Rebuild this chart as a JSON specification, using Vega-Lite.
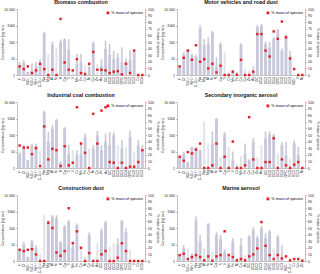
{
"$schema": "https://vega.github.io/schema/vega-lite/v6.json",
"padding": 0,
"background": "white",
"config": {"font": "Liberation Sans", "view": {"stroke": null},
  "axis": {"grid": false, "domainColor": "#999", "domainWidth": 0.6, "tickColor": "#999", "tickWidth": 0.6, "tickSize": 1.5, "labelPadding": 1, "labelFontSize": 3.5, "labelColor": "#222", "titleFontSize": 3.5, "titleFontWeight": "normal", "titleColor": "#222"},
  "title": {"fontSize": 5.3, "fontWeight": "bold", "offset": 1.5, "color": "#111"}},
"datasets": {"d": [
{"p":"B","s":"F⁻","m":3.7,"u":6,"q":13},{"p":"B","s":"Cl⁻","m":5.3,"u":8.5,"q":9},{"p":"B","s":"NO₃⁻","m":1.5,"u":1.5,"q":13},{"p":"B","s":"SO₄²⁻","m":1.8,"u":5,"q":3},{"p":"B","s":"NH₄⁺","m":3.4,"u":6,"q":7},{"p":"B","s":"C₂O₄²⁻","m":4.6,"u":9,"q":17},{"p":"B","s":"Na","m":350,"u":420,"q":9},{"p":"B","s":"Mg","m":null,"u":19,"q":0},{"p":"B","s":"Al","m":66,"u":105,"q":8},{"p":"B","s":"Si","m":null,"u":47,"q":0},{"p":"B","s":"K","m":95,"u":140,"q":85},{"p":"B","s":"Ca","m":140,"u":165,"q":19},{"p":"B","s":"Ti","m":34,"u":150,"q":8},{"p":"B","s":"V","m":null,"u":1.8,"q":7},{"p":"B","s":"Cr","m":null,"u":null,"q":0},{"p":"B","s":"Mn","m":4.6,"u":19,"q":24},{"p":"B","s":"Fe","m":6,"u":19,"q":3},{"p":"B","s":"Co","m":null,"u":3.7,"q":1.5},{"p":"B","s":"Ni","m":2.9,"u":5,"q":17},{"p":"B","s":"Cu","m":87,"u":105,"q":35},{"p":"B","s":"Zn","m":null,"u":4.6,"q":8},{"p":"B","s":"As","m":3.4,"u":9,"q":8},{"p":"B","s":"OC","m":38,"u":120,"q":7},{"p":"B","s":"OC1","m":17,"u":75,"q":3},{"p":"B","s":"OC2","m":9,"u":30,"q":5},{"p":"B","s":"OC3","m":11,"u":21,"q":6},{"p":"B","s":"OC4","m":null,"u":null,"q":0},{"p":"B","s":"OPC","m":6,"u":47,"q":1},{"p":"B","s":"EC1","m":6,"u":10,"q":17},{"p":"B","s":"EC2","m":8.5,"u":33,"q":3},{"p":"B","s":"EC3","m":24,"u":38,"q":37},
{"p":"M","s":"F⁻","m":2.9,"u":4,"q":13},{"p":"M","s":"Cl⁻","m":17,"u":24,"q":26},{"p":"M","s":"NO₃⁻","m":null,"u":null,"q":9},{"p":"M","s":"SO₄²⁻","m":30,"u":38,"q":37},{"p":"M","s":"NH₄⁺","m":15,"u":19,"q":23},{"p":"M","s":"C₂O₄²⁻","m":13,"u":17,"q":45},{"p":"M","s":"Na","m":670,"u":1050,"q":20},{"p":"M","s":"Mg","m":66,"u":150,"q":24},{"p":"M","s":"Al","m":75,"u":190,"q":10},{"p":"M","s":"Si","m":385,"u":480,"q":17},{"p":"M","s":"K","m":2.9,"u":12,"q":4},{"p":"M","s":"Ca","m":75,"u":95,"q":14},{"p":"M","s":"Ti","m":null,"u":24,"q":0},{"p":"M","s":"V","m":null,"u":null,"q":0},{"p":"M","s":"Cr","m":null,"u":1.5,"q":0},{"p":"M","s":"Mn","m":1.6,"u":2,"q":5},{"p":"M","s":"Fe","m":null,"u":1.6,"q":0.5},{"p":"M","s":"Co","m":66,"u":85,"q":23},{"p":"M","s":"Ni","m":null,"u":null,"q":0},{"p":"M","s":"Cu","m":null,"u":2.3,"q":0},{"p":"M","s":"Zn","m":null,"u":1.8,"q":0},{"p":"M","s":"As","m":1.6,"u":3.4,"q":5},{"p":"M","s":"OC","m":800,"u":1100,"q":62},{"p":"M","s":"OC1","m":950,"u":1250,"q":62},{"p":"M","s":"OC2","m":75,"u":110,"q":37},{"p":"M","s":"OC3","m":47,"u":100,"q":28},{"p":"M","s":"OC4","m":150,"u":200,"q":66},{"p":"M","s":"OPC","m":490,"u":620,"q":55},{"p":"M","s":"EC1","m":30,"u":40,"q":81},{"p":"M","s":"EC2","m":240,"u":300,"q":57},{"p":"M","s":"EC3","m":15,"u":30,"q":25},
{"p":"I","s":"F⁻","m":7.4,"u":9,"q":34},{"p":"I","s":"Cl⁻","m":15,"u":24,"q":31},{"p":"I","s":"NO₃⁻","m":2.9,"u":2.9,"q":31},{"p":"I","s":"SO₄²⁻","m":24,"u":30,"q":21},{"p":"I","s":"NH₄⁺","m":24,"u":30,"q":30},{"p":"I","s":"C₂O₄²⁻","m":null,"u":12,"q":3},{"p":"I","s":"Na","m":2470,"u":3000,"q":63},{"p":"I","s":"Mg","m":38,"u":150,"q":13},{"p":"I","s":"Al","m":240,"u":420,"q":29},{"p":"I","s":"Si","m":780,"u":950,"q":27},{"p":"I","s":"K","m":2,"u":2.5,"q":3},{"p":"I","s":"Ca","m":240,"u":300,"q":33},{"p":"I","s":"Ti","m":6.4,"u":24,"q":4},{"p":"I","s":"V","m":null,"u":12,"q":8},{"p":"I","s":"Cr","m":6.4,"u":12,"q":92},{"p":"I","s":"Mn","m":6.4,"u":38,"q":37},{"p":"I","s":"Fe","m":75,"u":120,"q":23},{"p":"I","s":"Co","m":null,"u":15,"q":0},{"p":"I","s":"Ni","m":15,"u":24,"q":82},{"p":"I","s":"Cu","m":95,"u":180,"q":37},{"p":"I","s":"Zn","m":12,"u":24,"q":87},{"p":"I","s":"As","m":38,"u":120,"q":92},{"p":"I","s":"OC","m":24,"u":150,"q":9},{"p":"I","s":"OC1","m":95,"u":150,"q":8},{"p":"I","s":"OC2","m":null,"u":24,"q":0},{"p":"I","s":"OC3","m":15,"u":47,"q":8},{"p":"I","s":"OC4","m":null,"u":19,"q":0},{"p":"I","s":"OPC","m":75,"u":190,"q":2},{"p":"I","s":"EC1","m":null,"u":10,"q":2},{"p":"I","s":"EC2","m":24,"u":47,"q":9},{"p":"I","s":"EC3","m":12,"u":24,"q":27},
{"p":"S","s":"F⁻","m":4.6,"u":5.5,"q":17},{"p":"S","s":"Cl⁻","m":7.4,"u":10,"q":11},{"p":"S","s":"NO₃⁻","m":2.3,"u":2.3,"q":24},{"p":"S","s":"SO₄²⁻","m":19,"u":19,"q":22},{"p":"S","s":"NH₄⁺","m":15,"u":19,"q":28},{"p":"S","s":"C₂O₄²⁻","m":12,"u":13,"q":37},{"p":"S","s":"Na","m":null,"u":620,"q":0},{"p":"S","s":"Mg","m":null,"u":30,"q":0},{"p":"S","s":"Al","m":30,"u":165,"q":4},{"p":"S","s":"Si","m":980,"u":1050,"q":37},{"p":"S","s":"K","m":null,"u":4.6,"q":0},{"p":"S","s":"Ca","m":105,"u":150,"q":17},{"p":"S","s":"Ti","m":null,"u":19,"q":0},{"p":"S","s":"V","m":2.9,"u":10,"q":40},{"p":"S","s":"Cr","m":null,"u":1.8,"q":0},{"p":"S","s":"Mn","m":null,"u":5.5,"q":0},{"p":"S","s":"Fe","m":7.4,"u":30,"q":4},{"p":"S","s":"Co","m":2.9,"u":3.4,"q":77},{"p":"S","s":"Ni","m":null,"u":null,"q":0},{"p":"S","s":"Cu","m":38,"u":66,"q":13},{"p":"S","s":"Zn","m":null,"u":4.6,"q":0},{"p":"S","s":"As","m":null,"u":24,"q":0},{"p":"S","s":"OC","m":60,"u":165,"q":9},{"p":"S","s":"OC1","m":105,"u":165,"q":9},{"p":"S","s":"OC2","m":95,"u":120,"q":45},{"p":"S","s":"OC3","m":null,"u":7.4,"q":0},{"p":"S","s":"OC4","m":24,"u":38,"q":13},{"p":"S","s":"OPC","m":6,"u":40,"q":4},{"p":"S","s":"EC1","m":null,"u":3.7,"q":0},{"p":"S","s":"EC2","m":30,"u":47,"q":5},{"p":"S","s":"EC3","m":6,"u":19,"q":9},
{"p":"C","s":"F⁻","m":4.6,"u":5.5,"q":17},{"p":"C","s":"Cl⁻","m":10,"u":15,"q":15},{"p":"C","s":"NO₃⁻","m":1.8,"u":1.8,"q":17},{"p":"C","s":"SO₄²⁻","m":16,"u":19,"q":18},{"p":"C","s":"NH₄⁺","m":6,"u":9,"q":10},{"p":"C","s":"C₂O₄²⁻","m":null,"u":2.8,"q":0},{"p":"C","s":"Na","m":null,"u":600,"q":0},{"p":"C","s":"Mg","m":240,"u":300,"q":58},{"p":"C","s":"Al","m":500,"u":600,"q":50},{"p":"C","s":"Si","m":390,"u":600,"q":13},{"p":"C","s":"K","m":13,"u":16,"q":8},{"p":"C","s":"Ca","m":120,"u":150,"q":15},{"p":"C","s":"Ti","m":240,"u":300,"q":80},{"p":"C","s":"V","m":null,"u":null,"q":0},{"p":"C","s":"Cr","m":null,"u":null,"q":0},{"p":"C","s":"Mn","m":6.5,"u":14,"q":27},{"p":"C","s":"Fe","m":150,"u":190,"q":45},{"p":"C","s":"Co","m":null,"u":7.4,"q":20},{"p":"C","s":"Ni","m":null,"u":1.8,"q":0},{"p":"C","s":"Cu","m":38,"u":55,"q":12},{"p":"C","s":"Zn","m":null,"u":1.3,"q":0},{"p":"C","s":"As","m":null,"u":12,"q":0},{"p":"C","s":"OC","m":65,"u":95,"q":10},{"p":"C","s":"OC1","m":220,"u":270,"q":15},{"p":"C","s":"OC2","m":null,"u":7.4,"q":0},{"p":"C","s":"OC3","m":null,"u":12,"q":0},{"p":"C","s":"OC4","m":10,"u":24,"q":5},{"p":"C","s":"OPC","m":270,"u":300,"q":27},{"p":"C","s":"EC1","m":null,"u":null,"q":0},{"p":"C","s":"EC2","m":58,"u":95,"q":15},{"p":"C","s":"EC3","m":null,"u":4.6,"q":0},
{"p":"R","s":"F⁻","m":2.3,"u":2.3,"q":9},{"p":"R","s":"Cl⁻","m":5.7,"u":9,"q":11},{"p":"R","s":"NO₃⁻","m":null,"u":null,"q":7},{"p":"R","s":"SO₄²⁻","m":null,"u":5.7,"q":3},{"p":"R","s":"NH₄⁺","m":2.3,"u":2.9,"q":6},{"p":"R","s":"C₂O₄²⁻","m":null,"u":null,"q":1},{"p":"R","s":"Na","m":300,"u":500,"q":9},{"p":"R","s":"Mg","m":15,"u":38,"q":6},{"p":"R","s":"Al","m":null,"u":5.7,"q":1},{"p":"R","s":"Si","m":165,"u":200,"q":7},{"p":"R","s":"K","m":null,"u":3.7,"q":0.5},{"p":"R","s":"Ca","m":38,"u":55,"q":7},{"p":"R","s":"Ti","m":21,"u":38,"q":9},{"p":"R","s":"V","m":3.4,"u":5,"q":45},{"p":"R","s":"Cr","m":null,"u":null,"q":3},{"p":"R","s":"Mn","m":1.6,"u":2,"q":9},{"p":"R","s":"Fe","m":15,"u":24,"q":6},{"p":"R","s":"Co","m":null,"u":null,"q":3},{"p":"R","s":"Ni","m":null,"u":1.6,"q":1},{"p":"R","s":"Cu","m":9,"u":24,"q":3},{"p":"R","s":"Zn","m":null,"u":null,"q":0.5},{"p":"R","s":"As","m":null,"u":2.3,"q":1},{"p":"R","s":"OC","m":30,"u":38,"q":7},{"p":"R","s":"OC1","m":75,"u":110,"q":10},{"p":"R","s":"OC2","m":24,"u":35,"q":19},{"p":"R","s":"OC3","m":95,"u":140,"q":59},{"p":"R","s":"OC4","m":24,"u":47,"q":23},{"p":"R","s":"OPC","m":60,"u":75,"q":9},{"p":"R","s":"EC1","m":null,"u":5.7,"q":3},{"p":"R","s":"EC2","m":30,"u":38,"q":9},{"p":"R","s":"EC3","m":1.6,"u":9,"q":4}
]},
"data": {"name": "d"},
"spacing": 6,
"resolve": {"scale": {"color": "independent"}, "legend": {"color": "independent"}},
"vconcat": [
{"hconcat": [
{"title": "Biomass combustion", "width": 128, "height": 66, "transform": [{"filter": "datum.p=='B'"}],
 "encoding": {"x": {"field": "s", "type": "nominal", "sort": null, "scale": {"paddingInner": 0, "paddingOuter": 0.15}, "axis": {"title": null, "labelAngle": 270, "ticks": false, "labelPadding": 1.5}}},
 "layer": [
  {"layer": [
   {"mark": {"type": "bar", "color": "#e3e3ea", "width": {"band": 0.5}}, "encoding": {"y": {"field": "u", "type": "quantitative", "scale": {"type": "log", "domain": [1, 10000]}, "axis": {"title": "Concentration (ng m⁻³)", "values": [1, 10, 100, 1000, 10000], "labelExpr": "datum.value >= 10000 ? '10 000' : format(datum.value, 'd')", "minExtent": 12, "maxExtent": 12, "titlePadding": 1}}, "y2": {"datum": 1}}},
   {"mark": {"type": "bar", "color": "#c8c8da", "width": {"band": 0.7}}, "encoding": {"y": {"field": "m", "type": "quantitative"}, "y2": {"datum": 1}}},
   {"mark": {"type": "rule", "color": "#a8a8b6", "strokeWidth": 0.5}, "encoding": {"y": {"field": "m", "type": "quantitative"}, "y2": {"field": "u"}}}
  ]},
  {"mark": {"type": "point", "shape": "square", "filled": true, "size": 6, "opacity": 1}, "encoding": {"y": {"field": "q", "type": "quantitative", "scale": {"domain": [0, 100]}, "axis": {"orient": "right", "title": "% mass of species", "values": [0,10,20,30,40,50,60,70,80,90,100], "minExtent": 9, "maxExtent": 9, "titlePadding": 1.5}}, "color": {"datum": "% mass of species", "type": "nominal", "scale": {"range": ["#e3202a"]}, "legend": {"orient": "top-right", "title": null, "symbolType": "square", "symbolSize": 8, "labelFontSize": 3.8, "padding": 0, "offset": 2, "labelOffset": 1.5, "symbolStrokeWidth": 0}}}}
 ],
 "resolve": {"scale": {"y": "independent"}}},
{"title": "Motor vehicles and road dust", "width": 128, "height": 66, "transform": [{"filter": "datum.p=='M'"}],
 "encoding": {"x": {"field": "s", "type": "nominal", "sort": null, "scale": {"paddingInner": 0, "paddingOuter": 0.15}, "axis": {"title": null, "labelAngle": 270, "ticks": false, "labelPadding": 1.5}}},
 "layer": [
  {"layer": [
   {"mark": {"type": "bar", "color": "#e3e3ea", "width": {"band": 0.5}}, "encoding": {"y": {"field": "u", "type": "quantitative", "scale": {"type": "log", "domain": [1, 10000]}, "axis": {"title": "Concentration (ng m⁻³)", "values": [1, 10, 100, 1000, 10000], "labelExpr": "datum.value >= 10000 ? '10 000' : format(datum.value, 'd')", "minExtent": 12, "maxExtent": 12, "titlePadding": 1}}, "y2": {"datum": 1}}},
   {"mark": {"type": "bar", "color": "#c8c8da", "width": {"band": 0.7}}, "encoding": {"y": {"field": "m", "type": "quantitative"}, "y2": {"datum": 1}}},
   {"mark": {"type": "rule", "color": "#a8a8b6", "strokeWidth": 0.5}, "encoding": {"y": {"field": "m", "type": "quantitative"}, "y2": {"field": "u"}}}
  ]},
  {"mark": {"type": "point", "shape": "square", "filled": true, "size": 6, "opacity": 1}, "encoding": {"y": {"field": "q", "type": "quantitative", "scale": {"domain": [0, 100]}, "axis": {"orient": "right", "title": "% mass of species", "values": [0,10,20,30,40,50,60,70,80,90,100], "minExtent": 9, "maxExtent": 9, "titlePadding": 1.5}}, "color": {"datum": "% mass of species", "type": "nominal", "scale": {"range": ["#e3202a"]}, "legend": {"orient": "top-right", "title": null, "symbolType": "square", "symbolSize": 8, "labelFontSize": 3.8, "padding": 0, "offset": 2, "labelOffset": 1.5, "symbolStrokeWidth": 0}}}}
 ],
 "resolve": {"scale": {"y": "independent"}}}
], "spacing": 0, "resolve": {"scale": {"color": "independent"}, "legend": {"color": "independent"}}},
{"hconcat": [
{"title": "Industrial coal combustion", "width": 128, "height": 66, "transform": [{"filter": "datum.p=='I'"}],
 "encoding": {"x": {"field": "s", "type": "nominal", "sort": null, "scale": {"paddingInner": 0, "paddingOuter": 0.15}, "axis": {"title": null, "labelAngle": 270, "ticks": false, "labelPadding": 1.5}}},
 "layer": [
  {"layer": [
   {"mark": {"type": "bar", "color": "#e3e3ea", "width": {"band": 0.5}}, "encoding": {"y": {"field": "u", "type": "quantitative", "scale": {"type": "log", "domain": [1, 10000]}, "axis": {"title": "Concentration (ng m⁻³)", "values": [1, 10, 100, 1000, 10000], "labelExpr": "datum.value >= 10000 ? '10 000' : format(datum.value, 'd')", "minExtent": 12, "maxExtent": 12, "titlePadding": 1}}, "y2": {"datum": 1}}},
   {"mark": {"type": "bar", "color": "#c8c8da", "width": {"band": 0.7}}, "encoding": {"y": {"field": "m", "type": "quantitative"}, "y2": {"datum": 1}}},
   {"mark": {"type": "rule", "color": "#a8a8b6", "strokeWidth": 0.5}, "encoding": {"y": {"field": "m", "type": "quantitative"}, "y2": {"field": "u"}}}
  ]},
  {"mark": {"type": "point", "shape": "square", "filled": true, "size": 6, "opacity": 1}, "encoding": {"y": {"field": "q", "type": "quantitative", "scale": {"domain": [0, 100]}, "axis": {"orient": "right", "title": "% mass of species", "values": [0,10,20,30,40,50,60,70,80,90,100], "minExtent": 9, "maxExtent": 9, "titlePadding": 1.5}}, "color": {"datum": "% mass of species", "type": "nominal", "scale": {"range": ["#e3202a"]}, "legend": {"orient": "top-right", "title": null, "symbolType": "square", "symbolSize": 8, "labelFontSize": 3.8, "padding": 0, "offset": 2, "labelOffset": 1.5, "symbolStrokeWidth": 0}}}}
 ],
 "resolve": {"scale": {"y": "independent"}}},
{"title": "Secondary inorganic aerosol", "width": 128, "height": 66, "transform": [{"filter": "datum.p=='S'"}],
 "encoding": {"x": {"field": "s", "type": "nominal", "sort": null, "scale": {"paddingInner": 0, "paddingOuter": 0.15}, "axis": {"title": null, "labelAngle": 270, "ticks": false, "labelPadding": 1.5}}},
 "layer": [
  {"layer": [
   {"mark": {"type": "bar", "color": "#e3e3ea", "width": {"band": 0.5}}, "encoding": {"y": {"field": "u", "type": "quantitative", "scale": {"type": "log", "domain": [1, 10000]}, "axis": {"title": "Concentration (ng m⁻³)", "values": [1, 10, 100, 1000, 10000], "labelExpr": "datum.value >= 10000 ? '10 000' : format(datum.value, 'd')", "minExtent": 12, "maxExtent": 12, "titlePadding": 1}}, "y2": {"datum": 1}}},
   {"mark": {"type": "bar", "color": "#c8c8da", "width": {"band": 0.7}}, "encoding": {"y": {"field": "m", "type": "quantitative"}, "y2": {"datum": 1}}},
   {"mark": {"type": "rule", "color": "#a8a8b6", "strokeWidth": 0.5}, "encoding": {"y": {"field": "m", "type": "quantitative"}, "y2": {"field": "u"}}}
  ]},
  {"mark": {"type": "point", "shape": "square", "filled": true, "size": 6, "opacity": 1}, "encoding": {"y": {"field": "q", "type": "quantitative", "scale": {"domain": [0, 100]}, "axis": {"orient": "right", "title": "% mass of species", "values": [0,10,20,30,40,50,60,70,80,90,100], "minExtent": 9, "maxExtent": 9, "titlePadding": 1.5}}, "color": {"datum": "% mass of species", "type": "nominal", "scale": {"range": ["#e3202a"]}, "legend": {"orient": "top-right", "title": null, "symbolType": "square", "symbolSize": 8, "labelFontSize": 3.8, "padding": 0, "offset": 2, "labelOffset": 1.5, "symbolStrokeWidth": 0}}}}
 ],
 "resolve": {"scale": {"y": "independent"}}}
], "spacing": 0, "resolve": {"scale": {"color": "independent"}, "legend": {"color": "independent"}}},
{"hconcat": [
{"title": "Construction dust", "width": 128, "height": 66, "transform": [{"filter": "datum.p=='C'"}],
 "encoding": {"x": {"field": "s", "type": "nominal", "sort": null, "scale": {"paddingInner": 0, "paddingOuter": 0.15}, "axis": {"title": null, "labelAngle": 270, "ticks": false, "labelPadding": 1.5}}},
 "layer": [
  {"layer": [
   {"mark": {"type": "bar", "color": "#e3e3ea", "width": {"band": 0.5}}, "encoding": {"y": {"field": "u", "type": "quantitative", "scale": {"type": "log", "domain": [1, 10000]}, "axis": {"title": "Concentration (ng m⁻³)", "values": [1, 10, 100, 1000, 10000], "labelExpr": "datum.value >= 10000 ? '10 000' : format(datum.value, 'd')", "minExtent": 12, "maxExtent": 12, "titlePadding": 1}}, "y2": {"datum": 1}}},
   {"mark": {"type": "bar", "color": "#c8c8da", "width": {"band": 0.7}}, "encoding": {"y": {"field": "m", "type": "quantitative"}, "y2": {"datum": 1}}},
   {"mark": {"type": "rule", "color": "#a8a8b6", "strokeWidth": 0.5}, "encoding": {"y": {"field": "m", "type": "quantitative"}, "y2": {"field": "u"}}}
  ]},
  {"mark": {"type": "point", "shape": "square", "filled": true, "size": 6, "opacity": 1}, "encoding": {"y": {"field": "q", "type": "quantitative", "scale": {"domain": [0, 100]}, "axis": {"orient": "right", "title": "% mass of species", "values": [0,10,20,30,40,50,60,70,80,90,100], "minExtent": 9, "maxExtent": 9, "titlePadding": 1.5}}, "color": {"datum": "% mass of species", "type": "nominal", "scale": {"range": ["#e3202a"]}, "legend": {"orient": "top-right", "title": null, "symbolType": "square", "symbolSize": 8, "labelFontSize": 3.8, "padding": 0, "offset": 2, "labelOffset": 1.5, "symbolStrokeWidth": 0}}}}
 ],
 "resolve": {"scale": {"y": "independent"}}},
{"title": "Marine aerosol", "width": 128, "height": 66, "transform": [{"filter": "datum.p=='R'"}],
 "encoding": {"x": {"field": "s", "type": "nominal", "sort": null, "scale": {"paddingInner": 0, "paddingOuter": 0.15}, "axis": {"title": null, "labelAngle": 270, "ticks": false, "labelPadding": 1.5}}},
 "layer": [
  {"layer": [
   {"mark": {"type": "bar", "color": "#e3e3ea", "width": {"band": 0.5}}, "encoding": {"y": {"field": "u", "type": "quantitative", "scale": {"type": "log", "domain": [1, 10000]}, "axis": {"title": "Concentration (ng m⁻³)", "values": [1, 10, 100, 1000, 10000], "labelExpr": "datum.value >= 10000 ? '10 000' : format(datum.value, 'd')", "minExtent": 12, "maxExtent": 12, "titlePadding": 1}}, "y2": {"datum": 1}}},
   {"mark": {"type": "bar", "color": "#c8c8da", "width": {"band": 0.7}}, "encoding": {"y": {"field": "m", "type": "quantitative"}, "y2": {"datum": 1}}},
   {"mark": {"type": "rule", "color": "#a8a8b6", "strokeWidth": 0.5}, "encoding": {"y": {"field": "m", "type": "quantitative"}, "y2": {"field": "u"}}}
  ]},
  {"mark": {"type": "point", "shape": "square", "filled": true, "size": 6, "opacity": 1}, "encoding": {"y": {"field": "q", "type": "quantitative", "scale": {"domain": [0, 100]}, "axis": {"orient": "right", "title": "% mass of species", "values": [0,10,20,30,40,50,60,70,80,90,100], "minExtent": 9, "maxExtent": 9, "titlePadding": 1.5}}, "color": {"datum": "% mass of species", "type": "nominal", "scale": {"range": ["#e3202a"]}, "legend": {"orient": "top-right", "title": null, "symbolType": "square", "symbolSize": 8, "labelFontSize": 3.8, "padding": 0, "offset": 2, "labelOffset": 1.5, "symbolStrokeWidth": 0}}}}
 ],
 "resolve": {"scale": {"y": "independent"}}}
], "spacing": 0, "resolve": {"scale": {"color": "independent"}, "legend": {"color": "independent"}}}
]
}
